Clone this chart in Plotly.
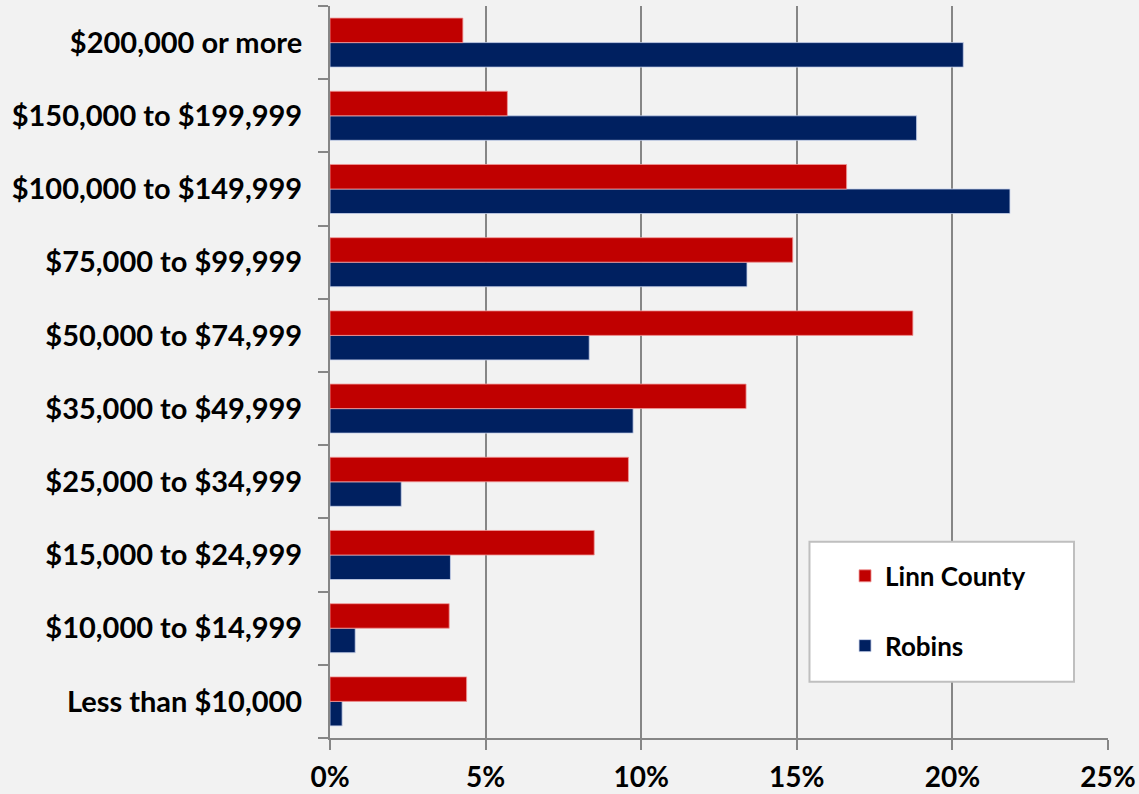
import plotly.graph_objects as go

categories = [
    "Less than $10,000",
    "$10,000 to $14,999",
    "$15,000 to $24,999",
    "$25,000 to $34,999",
    "$35,000 to $49,999",
    "$50,000 to $74,999",
    "$75,000 to $99,999",
    "$100,000 to $149,999",
    "$150,000 to $199,999",
    "$200,000 or more",
]
linn_county = [4.39, 3.83, 8.49, 9.59, 13.37, 18.73, 14.87, 16.6, 5.70, 4.27]
robins = [0.39, 0.81, 3.87, 2.29, 9.74, 8.33, 13.4, 21.85, 18.85, 20.35]
x_ticks = [0, 5, 10, 15, 20, 25]
x_tick_labels = ["0%", "5%", "10%", "15%", "20%", "25%"]

FONT = "Lato"
GRAY = "#868686"

fig = go.Figure()
fig.add_trace(go.Bar(
    y=categories, x=robins, orientation="h", name="Robins",
    marker=dict(color="#002060", line=dict(color="rgba(200,210,235,0.8)", width=1)),
    legendgroup="r", legendrank=2,
))
fig.add_trace(go.Bar(
    y=categories, x=linn_county, orientation="h", name="Linn County",
    marker=dict(color="#C00000", line=dict(color="rgba(240,150,150,0.8)", width=1)),
    legendgroup="l", legendrank=1,
))

fig.update_layout(
    width=1139, height=794,
    barmode="group", bargap=0.33, bargroupgap=0,
    paper_bgcolor="#f2f2f2", plot_bgcolor="#f2f2f2",
    margin=dict(l=330, r=31, t=6, b=56),
    font=dict(family=FONT, size=29, color="#000000"),
    showlegend=True,
    legend=dict(
        x=0.662, y=0.2535, xanchor="left", yanchor="top",
        bgcolor="rgba(0,0,0,0)", borderwidth=0,
        traceorder="grouped", tracegroupgap=33,
        font=dict(family=FONT, size=26, color="#000000", weight="bold"),
    ),
    shapes=[dict(
        type="rect", xref="paper", yref="paper",
        x0=0.6163, x1=0.9563, y0=0.0769, y1=0.2682,
        fillcolor="#ffffff", line=dict(color="#bfbfbf", width=2), layer="above",
    )],
)

fig.update_xaxes(
    range=[0, 25], tickmode="array", tickvals=x_ticks, ticktext=x_tick_labels,
    showgrid=True, gridcolor=GRAY, gridwidth=2, zeroline=False,
    showline=True, linecolor=GRAY, linewidth=2,
    ticks="outside", ticklen=10, tickwidth=2, tickcolor=GRAY,
    tickfont=dict(family=FONT, size=28, color="#000000", weight="bold"),
    automargin=False, ticklabelstandoff=3,
)
fig.update_yaxes(
    type="category", categoryorder="array", categoryarray=categories,
    showgrid=False, zeroline=False,
    showline=True, linecolor=GRAY, linewidth=2,
    ticks="outside", tickson="boundaries", ticklen=10, tickwidth=2, tickcolor=GRAY,
    tickfont=dict(family=FONT, size=29, color="#000000", weight="bold"),
    automargin=False, ticklabelstandoff=20,
)

fig.write_html(
    "out.html",
    config={"displayModeBar": False},
    post_script="document.body.style.margin='0';document.body.style.background='#f2f2f2';",
)
